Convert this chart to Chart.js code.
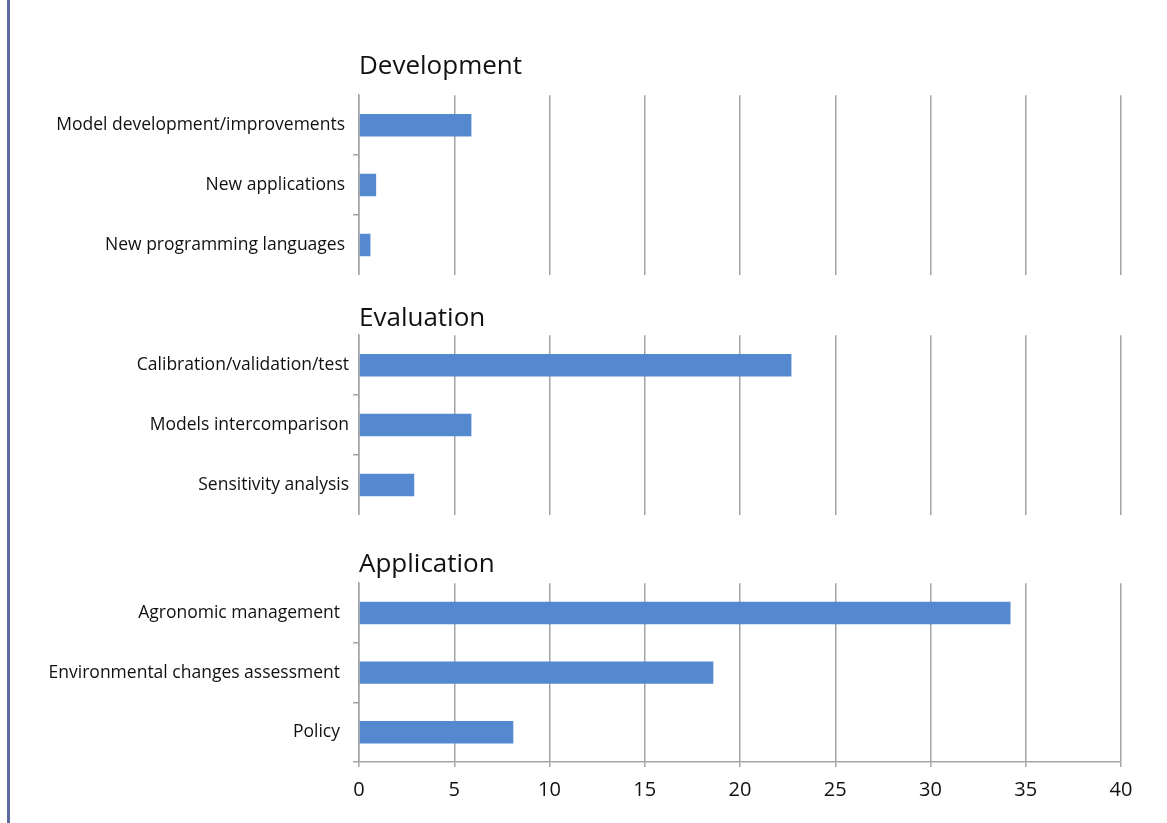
<!DOCTYPE html>
<html>
<head>
<meta charset="utf-8">
<script src="https://cdn.jsdelivr.net/npm/chart.js@4"></script>
<style>
  html, body { margin: 0; padding: 0; background: #fff; }
  body { width: 1167px; height: 823px; position: relative; overflow: hidden; }
  .frame { position: absolute; left: 7px; top: 0; width: 3px; height: 823px; background: #5f6a9c; }
  canvas { position: absolute; left: 20px; }
</style>
</head>
<body>
<div class="frame"></div>
<canvas id="devChart" width="1147" height="235" style="top:40px"></canvas>
<canvas id="evalChart" width="1147" height="223" style="top:292px"></canvas>
<canvas id="appChart" width="1147" height="284" style="top:539px"></canvas>
<script>
// Share of studies by topic, three groups
const devLabels = ["Model development/improvements", "New applications", "New programming languages"];
const devValues = [5.9, 0.9, 0.6];

const evalLabels = ["Calibration/validation/test", "Models intercomparison", "Sensitivity analysis"];
const evalValues = [22.7, 5.9, 2.9];

const appLabels = ["Agronomic management", "Environmental changes assessment", "Policy"];
const appValues = [34.2, 18.6, 8.1];

const xTicks = [0, 5, 10, 15, 20, 25, 30, 35, 40];

const FONT = "'Open Sans', 'Noto Sans', sans-serif";
const GRID = "#a4a4a4";
const BAR = "#5589cf";

function makePanel(id, title, labels, values, opts) {
  const ctx = document.getElementById(id).getContext("2d");
  return new Chart(ctx, {
    type: "bar",
    data: {
      labels: labels,
      datasets: [{
        data: values,
        backgroundColor: BAR,
        categoryPercentage: 1,
        barPercentage: 0.375,
      }],
    },
    options: {
      indexAxis: "y",
      responsive: false,
      animation: false,
      layout: { padding: { left: 0, right: 46, top: 0, bottom: 0 } },
      plugins: {
        legend: { display: false },
        tooltip: { enabled: false },
        title: {
          display: true,
          text: title,
          align: "start",
          fullSize: false,
          color: "#111",
          font: { family: FONT, size: 26, weight: "normal" },
          padding: { top: opts.titleTop, bottom: opts.titleGap },
        },
      },
      scales: {
        x: {
          min: 0,
          max: 40,
          afterBuildTicks: (scale) => {
            scale.ticks = xTicks.map((v) => ({ value: v }));
          },
          afterFit: (scale) => {
            scale.height = opts.showAxis ? 61 : 0;
          },
          grid: {
            color: GRID,
            lineWidth: 1.5,
            drawTicks: opts.showAxis,
            tickLength: 5,
          },
          border: { display: opts.showAxis, color: GRID, width: 1.5 },
          ticks: {
            display: opts.showAxis,
            padding: 11,
            color: "#111",
            font: { family: FONT, size: 20 },
          },
        },
        y: {
          afterFit: (scale) => {
            scale.width = 339;
            // labels sit inside their bands, no extra room needed above/below
            scale.paddingTop = 0;
            scale.paddingBottom = 0;
          },
          grid: {
            drawOnChartArea: false,
            tickLength: 6,
            lineWidth: 1.5,
            // only the marks between categories (and the bottom one on the last panel)
            color: (c) => {
              if (c.index === 0) return "transparent";
              if (c.index === undefined && !opts.showAxis) return "transparent";
              return GRID;
            },
          },
          border: { display: true, color: GRID, width: 1.5 },
          ticks: {
            padding: opts.labelPad,
            color: "#111",
            font: { family: FONT, size: 17.5 },
          },
        },
      },
    },
  });
}

makePanel("devChart", "Development", devLabels, devValues, { titleTop: 11, titleGap: 13, labelPad: 8, showAxis: false });
makePanel("evalChart", "Evaluation", evalLabels, evalValues, { titleTop: 11, titleGap: 1, labelPad: 4, showAxis: false });
makePanel("appChart", "Application", appLabels, appValues, { titleTop: 10, titleGap: 3, labelPad: 13, showAxis: true });
</script>
</body>
</html>
